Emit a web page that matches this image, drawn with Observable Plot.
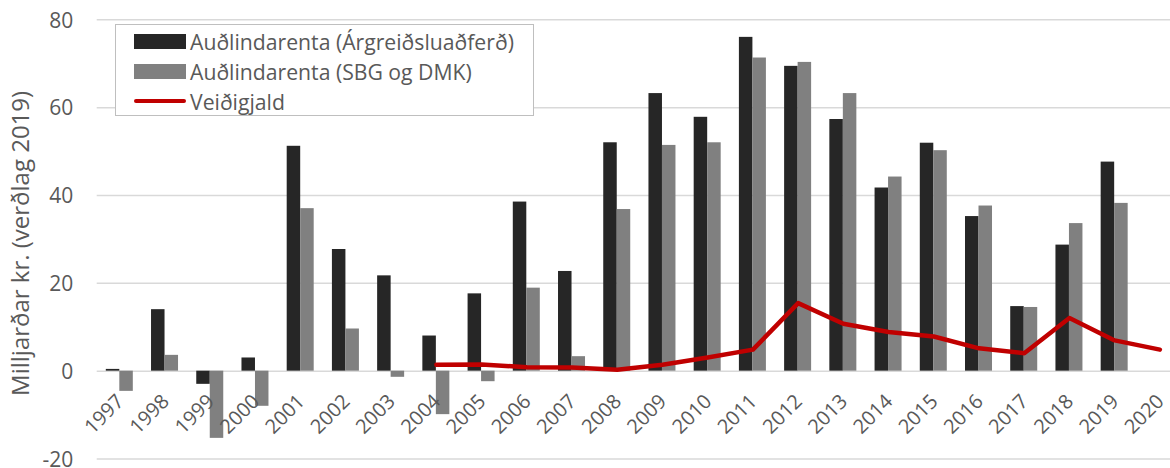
<!DOCTYPE html>
<html>
<head>
<meta charset="utf-8">
<script src="https://cdn.jsdelivr.net/npm/d3@7"></script>
<script src="https://cdn.jsdelivr.net/npm/@observablehq/plot@0.6"></script>
<style>
  body { margin: 0; background: #fff; }
  #chart { position: relative; width: 1170px; height: 468px; overflow: hidden; font-family: "Open Sans", sans-serif; }
  #chart svg { overflow: hidden; }
  #legend { position: absolute; left: 115px; top: 24px; width: 417px; height: 90px;
            border: 1.5px solid #bfbfbf; background: #fff; }
  .item { position: absolute; left: 18px; height: 30px; display: flex; align-items: center; }
  .sw { width: 52px; margin-right: 4px; }
  .lbl { font-size: 21.2px; color: #595959; white-space: nowrap; }
</style>
</head>
<body>
<div id="chart"></div>
<script>
// Years on the category axis
const years = [1997, 1998, 1999, 2000, 2001, 2002, 2003, 2004, 2005, 2006, 2007, 2008,
               2009, 2010, 2011, 2012, 2013, 2014, 2015, 2016, 2017, 2018, 2019, 2020];

// Auðlindarenta (Árgreiðsluaðferð), billions ISK at 2019 prices (no value for 2020)
const rentAnnuity = [0.4, 14.0, -3.0, 3.0, 51.2, 27.7, 21.7, 8.0, 17.6, 38.5, 22.7, 52.0,
                     63.2, 57.8, 76.0, 69.4, 57.3, 41.7, 51.9, 35.2, 14.7, 28.7, 47.6, null];

// Auðlindarenta (SBG og DMK)
const rentSbgDmk = [-4.6, 3.6, -15.3, -8.0, 37.0, 9.6, -1.4, -9.9, -2.4, 18.9, 3.3, 36.8,
                    51.4, 52.0, 71.3, 70.3, 63.2, 44.2, 50.2, 37.6, 14.5, 33.6, 38.2, null];

// Veiðigjald (fishing fee), from 2004
const feeYears = [2004, 2005, 2006, 2007, 2008, 2009, 2010, 2011, 2012, 2013, 2014, 2015,
                  2016, 2017, 2018, 2019, 2020];
const fishingFee = [1.45, 1.5, 0.9, 0.85, 0.3, 1.45, 3.1, 4.9, 15.5, 10.8, 8.9, 7.9,
                    5.2, 4.1, 12.1, 7.0, 4.9];

const seriesNames = ["Auðlindarenta (Árgreiðsluaðferð)", "Auðlindarenta (SBG og DMK)", "Veiðigjald"];
const seriesColors = ["#262626", "#808080", "#c00000"];
const yTicks = [-20, 0, 20, 40, 60, 80];
const yLabel = "Milljarðar kr. (verðlag 2019)";

// Layout
const W = 1170, H = 468;
const mL = 96.7, mR = -12;              // the last category runs past the right edge
const band = (W - mL - mR) / years.length;
const half = band / 2;
const barW = 13.5;

const rowsA = years.map((year, i) => ({year, value: rentAnnuity[i]})).filter(d => d.value != null);
const rowsB = years.map((year, i) => ({year, value: rentSbgDmk[i]})).filter(d => d.value != null);
const feeRows = feeYears.map((year, i) => ({year, value: fishingFee[i]}));

const plot = Plot.plot({
  width: W,
  height: H,
  marginLeft: mL,
  marginRight: mR,
  marginTop: 19.3,
  marginBottom: 9.5,
  x: {type: "band", domain: years, padding: 0, round: false, axis: null},
  y: {domain: [-20, 80], axis: null},
  style: {fontFamily: "Open Sans, sans-serif", fontSize: "21px", color: "#595959", background: "white"},
  marks: [
    Plot.ruleY(yTicks, {stroke: "#d9d9d9", strokeWidth: 1.5}),
    Plot.barY(rowsA, {x: "year", y: "value", fill: seriesColors[0],
                      insetLeft: half - barW, insetRight: half}),
    Plot.barY(rowsB, {x: "year", y: "value", fill: seriesColors[1],
                      insetLeft: half, insetRight: half - barW}),
    Plot.line(feeRows, {x: "year", y: "value", stroke: seriesColors[2], strokeWidth: 4.5,
                        strokeLinejoin: "round", strokeLinecap: "round"}),
    Plot.axisY(yTicks, {tickSize: 0, tickPadding: 24, dy: 1, fontSize: 21, label: null,
                        fill: "#595959", tickFormat: d => String(d)}),
    // Rotated year labels hanging just below the zero line
    Plot.text(years, {x: d => d, y: () => 0, text: d => String(d), rotate: -45,
                      textAnchor: "end", dx: 0.7, dy: 27, fill: "#595959", fontSize: 20}),
    Plot.text([yLabel], {frameAnchor: "left", text: d => d, rotate: -90, textAnchor: "middle",
                         dx: -75.5, dy: 4, fill: "#595959", fontSize: 24})
  ]
});

const chart = document.getElementById("chart");
chart.appendChild(plot);

// Legend box inside the plotting area
const legend = document.createElement("div");
legend.id = "legend";
seriesNames.forEach((name, i) => {
  const item = document.createElement("div");
  item.className = "item";
  item.style.top = (i * 30 + 1) + "px";
  const sw = document.createElement("div");
  sw.className = "sw";
  sw.style.height = i < 2 ? "15px" : "4px";
  if (i === 2) sw.style.borderRadius = "2px";
  sw.style.background = seriesColors[i];
  const lbl = document.createElement("span");
  lbl.className = "lbl";
  lbl.textContent = name;
  item.appendChild(sw);
  item.appendChild(lbl);
  legend.appendChild(item);
});
chart.appendChild(legend);
</script>
</body>
</html>
